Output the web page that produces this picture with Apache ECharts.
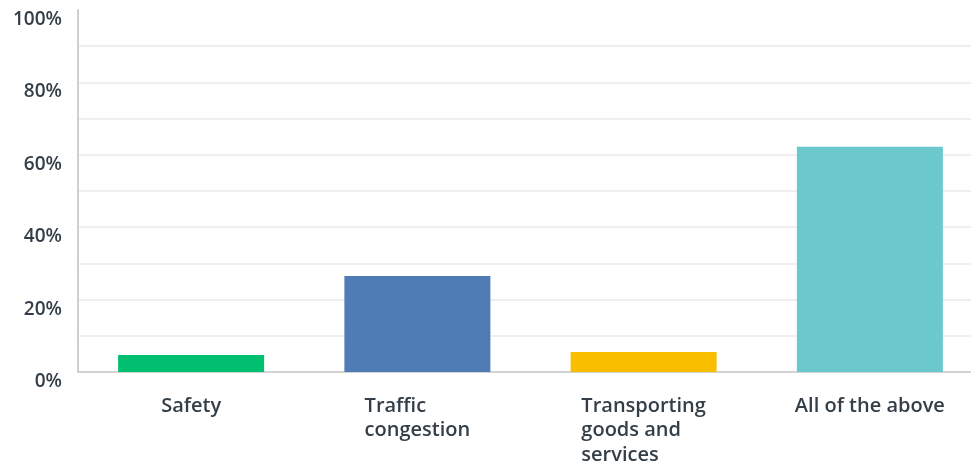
<!DOCTYPE html>
<html>
<head>
<meta charset="utf-8">
<script src="https://cdn.jsdelivr.net/npm/echarts@6/dist/echarts.min.js"></script>
<style>html,body{margin:0;padding:0;background:#fff;overflow:hidden}#c{width:1000px;height:468px}</style>
</head>
<body>
<div id="c"></div>
<script>
const categories = ['Safety', 'Traffic\ncongestion', 'Transporting\ngoods and\nservices', 'All of the above'];
const values = [4.7, 26.5, 5.5, 62.2];
const barColors = ['#00BF6F', '#507CB6', '#F9BE00', '#6BC8CD'];
const yTicks = [0, 20, 40, 60, 80, 100];

const chart = echarts.init(document.getElementById('c'), null, {renderer: 'canvas'});
const splitColors = [];
for (let v = 0; v <= 100; v += 10) splitColors.push(v === 100 ? 'rgba(0,0,0,0)' : '#efefef');

chart.setOption({
  animation: false,
  grid: {left: 78, top: 10, width: 905, height: 362, containLabel: false},
  xAxis: {
    type: 'category',
    data: categories,
    axisTick: {show: false},
    axisLine: {show: true, lineStyle: {color: '#d3d3d3', width: 2}},
    axisLabel: {
      margin: 22,
      interval: 0,
      formatter: v => v.split('\n').map(s => '{l|' + s + '}').join('\n'),
      rich: {
        l: {align: 'left', fontFamily: 'Open Sans', fontWeight: 600, fontSize: 20, color: '#333e48', lineHeight: 24.5}
      }
    }
  },
  yAxis: {
    type: 'value',
    min: 0, max: 100, interval: 10,
    axisLine: {show: true, lineStyle: {color: '#cfcfcf', width: 2}},
    axisTick: {show: false},
    splitLine: {show: true, lineStyle: {color: splitColors, width: 2}},
    axisLabel: {
      margin: 16,
      verticalAlign: 'top',
      fontFamily: 'Open Sans', fontWeight: 600, fontSize: 19, color: '#333e48',
      formatter: v => yTicks.indexOf(v) >= 0 ? v + '%' : ''
    }
  },
  series: [{
    type: 'bar',
    barWidth: 146,
    data: values.map((v, i) => ({value: v, itemStyle: {color: barColors[i]}}))
  }]
});
</script>
</body>
</html>
